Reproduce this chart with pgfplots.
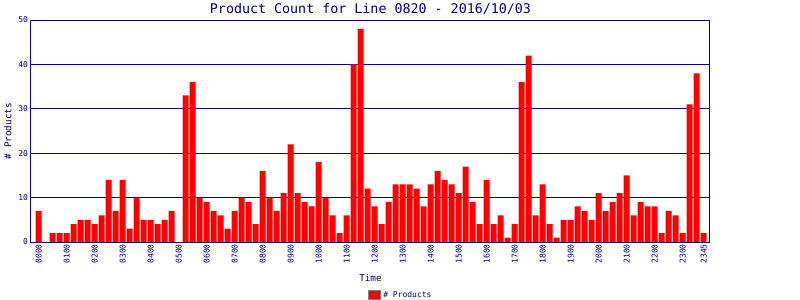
\documentclass[border=0pt]{standalone}
\usepackage{pgfplots}
\pgfplotsset{compat=1.18}
\usepackage{fontspec}
\setmainfont{DejaVu Sans Mono}
\definecolor{navy}{HTML}{000080}
\begin{document}
\begin{tikzpicture}
\path[use as bounding box] (-23.25pt,-43.5pt) rectangle (576.75pt,181.5pt);
\begin{axis}[
  at={(0pt,0pt)}, anchor=south west,
  scale only axis, width=509.25pt, height=166.5pt,
  xmin=-1.1, xmax=95.9, ymin=0, ymax=50,
  axis line style={navy, line width=0.75pt},
  ytick={0,10,20,30,40,50},
  ymajorgrids, grid style={navy, line width=0.75pt},
  major tick length=0pt,
  xtick={0,4,8,12,16,20,24,28,32,36,40,44,48,52,56,60,64,68,72,76,80,84,88,92,95},
  xticklabels={0000,0100,0200,0300,0400,0500,0600,0700,0800,0900,1000,1100,1200,1300,1400,1500,1600,1700,1800,1900,2000,2100,2200,2300,2345},
  /pgf/number format/assume math mode=true,
  xticklabel style={rotate=90, anchor=east, font=\fontsize{6}{7}\selectfont, text=navy, inner sep=1.5pt},
  yticklabel style={font=\fontsize{6}{7}\selectfont, text=navy, inner sep=2pt},
  title={Product Count for Line 0820 - 2016/10/03},
  title style={at={(axis description cs:0.5,1.012)}, anchor=center, font=\fontsize{10}{12}\selectfont, text=navy},
  xlabel={Time},
  xlabel style={at={(axis description cs:0.5,-0.162)}, anchor=center, font=\fontsize{7}{8}\selectfont, text=navy},
  ylabel={\# Products},
  ylabel style={at={(axis description cs:-0.034,0.5)}, anchor=center, font=\fontsize{7}{8}\selectfont, text=navy},
  legend style={at={(axis description cs:0.545,-0.239)}, anchor=center, draw=none, fill=none, font=\fontsize{6}{7}\selectfont, text=navy, inner sep=0pt},
  legend image code/.code={\draw[fill=red, draw=gray, line width=0.5pt] (0pt,-3.5pt) rectangle (9pt,3.5pt);},
]
\addplot[ybar, bar width=0.857, fill=red, draw=none, bar shift=0pt] coordinates {
(0,7)(1,0)(2,2)(3,2)(4,2)(5,4)(6,5)(7,5)(8,4)(9,6)(10,14)(11,7)(12,14)(13,3)(14,10)(15,5)
(16,5)(17,4)(18,5)(19,7)(20,0)(21,33)(22,36)(23,10)(24,9)(25,7)(26,6)(27,3)(28,7)(29,10)(30,9)(31,4)
(32,16)(33,10)(34,7)(35,11)(36,22)(37,11)(38,9)(39,8)(40,18)(41,10)(42,6)(43,2)(44,6)(45,40)(46,48)(47,12)
(48,8)(49,4)(50,9)(51,13)(52,13)(53,13)(54,12)(55,8)(56,13)(57,16)(58,14)(59,13)(60,11)(61,17)(62,9)(63,4)
(64,14)(65,4)(66,6)(67,1)(68,4)(69,36)(70,42)(71,6)(72,13)(73,4)(74,1)(75,5)(76,5)(77,8)(78,7)(79,5)
(80,11)(81,7)(82,9)(83,11)(84,15)(85,6)(86,9)(87,8)(88,8)(89,2)(90,7)(91,6)(92,2)(93,31)(94,38)(95,2)
};
\addlegendentry{\# Products}
\end{axis}
\end{tikzpicture}
\end{document}
